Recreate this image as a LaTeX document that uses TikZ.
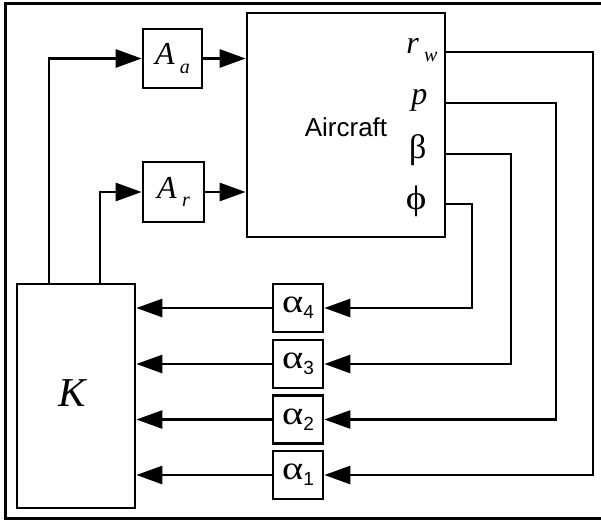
\documentclass[tikz,border=0pt]{standalone}
\usepackage{graphicx}
\usepackage{fontspec}
\setmainfont{Liberation Serif}
\setsansfont{Liberation Sans}
\usetikzlibrary{arrows.meta}

\newcommand{\lowsub}[1]{\raisebox{-0.6ex}{\fontsize{20}{20}\selectfont #1}}
\newcommand{\digsub}[1]{\raisebox{-0.45ex}{\fontsize{19}{19}\selectfont\sffamily #1}}
\newcommand{\widegr}[1]{\scalebox{1.35}[1.1]{#1}}

\tikzset{
    blk/.style={draw, line width=2.7pt, inner sep=0pt},
    wire/.style={line width=2.7pt},
    sig/.style={wire, -{Triangle[length=26pt, width=18pt]}},
    gain/.style={blk, minimum width=50pt, minimum height=48pt, font=\fontsize{30}{30}\selectfont},
    outlab/.style={font=\fontsize{32}{32}\selectfont, anchor=east},
}

\begin{document}
\begin{tikzpicture}[x=1pt, y=-1pt]
            \useasboundingbox (0, 0) rectangle (601, 522);
            % frame
            \draw[line width=3pt] (620, 3) -- (5, 3) -- (5, 518) -- (620, 518);
            % blocks
            \node[blk, minimum width=198pt, minimum height=224pt] (ac) at (346, 125) {};
            \node[font=\sffamily\fontsize{26}{26}\selectfont] (aclab) at (346, 127) {Aircraft};
            \node[blk, minimum width=118pt, minimum height=224pt] (K) at (76, 396) {};
            \node[font=\fontsize{41}{41}\selectfont\itshape] (Klab) at (72, 393) {K};
            \node[blk, minimum width=59pt, minimum height=59pt, font=\fontsize{32}{32}\selectfont] (Aa) at (172.5, 58.5) {\textit{A}\,\lowsub{\textit{a}}};
            \node[blk, minimum width=61pt, minimum height=60pt, font=\fontsize{32}{32}\selectfont] (Ar) at (173.5, 192) {\textit{A}\,\lowsub{\textit{r}}};
            \node[gain] (al4) at (298, 308) {\widegr{α}\digsub{4}};
            \node[gain] (al3) at (298, 364) {\widegr{α}\digsub{3}};
            \node[gain] (al2) at (298, 419.5) {\widegr{α}\digsub{2}};
            \node[gain] (al1) at (298, 475) {\widegr{α}\digsub{1}};
            % outputs
            \node[outlab] (rw) at (441, 50) {\textit{r}\,\lowsub{\textit{w}}};
            \node[outlab] (p) at (431, 100) {\textit{p}};
            \node[outlab, font=\fontsize{34}{34}\selectfont] (beta) at (430, 150) {β};
            \node[outlab, font=\fontsize{34}{34}\selectfont] (phi) at (430, 201) {\scalebox{1.15}[1]{ϕ}};
            \coordinate (o1) at (445, 52);
            \coordinate (o2) at (445, 103);
            \coordinate (o3) at (445, 154);
            \coordinate (o4) at (445, 204);
            \coordinate (k1) at (49, 284);
            \coordinate (k2) at (100, 284);
            % inputs
            \draw[sig] (k1) |- (Aa.west);
            \draw[sig] (k2) |- (Ar.west);
            \draw[sig] (Aa.east) -- (Aa.east -| ac.west);
            \draw[sig] (Ar.east) -- (Ar.east -| ac.west);
            % feedback
            \draw[sig] (o1) -- (593, 52) |- (al1.east);
            \draw[sig] (o2) -- (556, 103) |- (al2.east);
            \draw[sig] (o3) -- (511, 154) |- (al3.east);
            \draw[sig] (o4) -- (472, 204) |- (al4.east);
            \draw[sig] (al4.west) -- (al4.west -| K.east);
            \draw[sig] (al3.west) -- (al3.west -| K.east);
            \draw[sig] (al2.west) -- (al2.west -| K.east);
            \draw[sig] (al1.west) -- (al1.west -| K.east);
        \end{tikzpicture}
\end{document}
